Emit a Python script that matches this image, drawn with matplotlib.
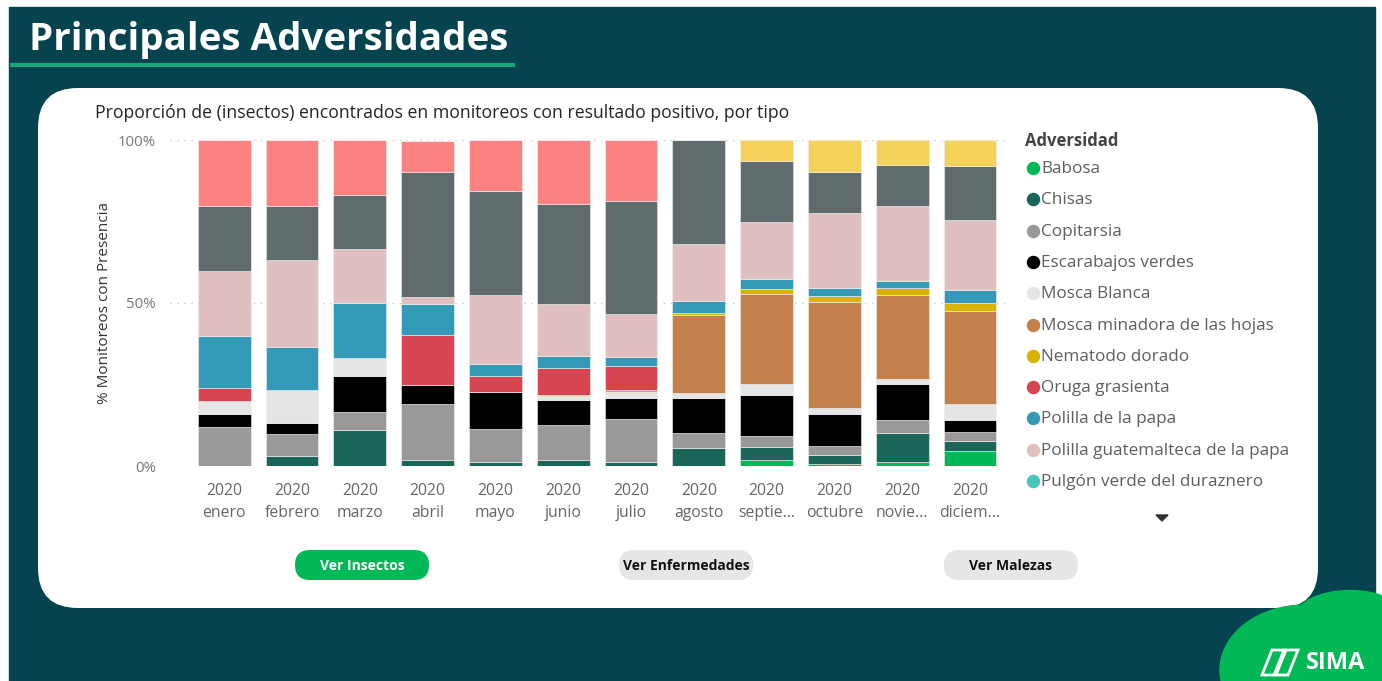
import matplotlib.pyplot as plt
from matplotlib.patches import FancyBboxPatch, Ellipse, Polygon, Rectangle
import numpy as np

plt.rcParams['font.family'] = ['Open Sans', 'DejaVu Sans']

# --- datos (porcentaje de monitoreos por adversidad, 2020) ---
meses = ['enero', 'febrero', 'marzo', 'abril', 'mayo', 'junio', 'julio',
         'agosto', 'septie...', 'octubre', 'novie...', 'diciem...']

babosa       = [0, 0, 0, 0, 0, 0, 0, 0, 1.7, 0.5, 1.3, 4.7]
chisas       = [0, 3.2, 10.9, 1.8, 1.3, 1.7, 1.3, 5.4, 4.1, 2.9, 8.7, 3.1]
copitarsia   = [11.9, 6.7, 5.6, 17.2, 9.9, 10.9, 13.2, 4.7, 3.5, 2.7, 4.2, 2.5]
escarabajos  = [4.0, 3.4, 11.2, 5.8, 11.6, 7.6, 6.5, 10.8, 12.5, 9.9, 11.1, 3.9]
mosca_blanca = [4.0, 10.0, 5.4, 0, 0, 1.2, 1.6, 1.5, 3.4, 1.7, 1.3, 4.8]
minadora     = [0, 0, 0, 0, 0, 0, 0, 23.8, 27.6, 32.7, 26.0, 28.6]
nematodo     = [0, 0, 0, 0, 0, 0.5, 0.7, 0.8, 1.6, 1.8, 1.9, 2.4]
oruga        = [4.0, 0, 0, 15.4, 4.8, 8.2, 7.5, 0, 0, 0, 0, 0]
polilla      = [16.0, 13.2, 16.8, 9.6, 3.6, 3.7, 2.6, 3.7, 2.9, 2.4, 2.2, 4.0]
guatemalteca = [20.0, 26.7, 16.7, 1.9, 21.3, 16.0, 13.3, 17.3, 17.4, 23.1, 23.0, 21.5]
pulgon       = [0, 0, 0, 0, 0, 0, 0, 0, 0, 0, 0, 0]
# series que quedan fuera de la parte visible de la leyenda
pulguilla    = [20.0, 16.6, 16.6, 38.4, 31.9, 30.5, 34.7, 32.0, 18.8, 12.4, 12.6, 16.6]
trips        = [20.0, 20.2, 16.8, 9.7, 15.6, 19.7, 18.5, 0, 0, 0, 0, 0]
tizon        = [0, 0, 0, 0, 0, 0, 0, 0, 6.6, 9.9, 7.7, 8.0]

nombres = ['Babosa', 'Chisas', 'Copitarsia', 'Escarabajos verdes', 'Mosca Blanca',
           'Mosca minadora de las hojas', 'Nematodo dorado', 'Oruga grasienta',
           'Polilla de la papa', 'Polilla guatemalteca de la papa',
           'Pulgón verde del duraznero', 'Pulguilla', 'Trips', 'Tizón']
series = [babosa, chisas, copitarsia, escarabajos, mosca_blanca, minadora, nematodo,
          oruga, polilla, guatemalteca, pulgon, pulguilla, trips, tizon]
colores = ['#00B856', '#1A665A', '#999999', '#000000', '#E5E5E5', '#C3804D', '#D9B300',
           '#D64550', '#3599B8', '#DFBFBF', '#4AC5BB', '#5F6B6D', '#FB8281', '#F4D25A']
n_leyenda = 11

botones = ['Ver Insectos', 'Ver Enfermedades', 'Ver Malezas']

W, H = 1382, 681
fig = plt.figure(figsize=(W / 100, H / 100), dpi=100)
fig.patch.set_facecolor('white')

# fondo en coordenadas de pixel
bg = fig.add_axes([0, 0, 1, 1])
bg.set_xlim(0, W)
bg.set_ylim(H, 0)
bg.axis('off')

bg.add_patch(Rectangle((9, 7), 1366, 680, color='#05434F', zorder=0))
bg.text(29, 40, 'Principales Adversidades', color='white', fontsize=27.7,
        fontweight='bold', va='center', ha='left')
bg.plot([10, 515], [65, 65], color='#1BA57A', lw=3, solid_capstyle='butt')

bg.add_patch(FancyBboxPatch((38, 88), 1280, 520,
                            boxstyle='round,pad=0,rounding_size=40',
                            fc='white', ec='none', zorder=1))

# logo SIMA
bg.add_patch(Ellipse((1305, 670), 170, 130, color='#00B856', zorder=1))
bg.add_patch(Ellipse((1350, 618), 110, 55, color='#00B856', zorder=1))
for dx in (0, 14):
    bg.add_patch(Polygon([[1262 + dx, 675], [1272 + dx, 650], [1284 + dx, 650], [1274 + dx, 675]],
                         closed=True, fill=False, ec='white', lw=2, zorder=2))
bg.text(1306, 663, 'SIMA', color='white', fontsize=17, fontweight='bold',
        va='center', ha='left', zorder=3)

bg.text(95, 113, 'Proporción de (insectos) encontrados en monitoreos con resultado positivo, por tipo',
        color='#252423', fontsize=12.7, va='center', ha='left', zorder=2)

# botones
for (cx, txt), fc, tc in zip(zip([362, 686, 1011], botones),
                             ['#00B856', '#E6E6E6', '#E6E6E6'],
                             ['white', '#111111', '#111111']):
    bg.add_patch(FancyBboxPatch((cx - 67, 550), 134, 30,
                                boxstyle='round,pad=0,rounding_size=15',
                                fc=fc, ec='none', zorder=2))
    bg.text(cx, 566, txt, color=tc, fontsize=10, fontweight='bold',
            ha='center', va='center', zorder=3)

# leyenda
bg.text(1025, 141, 'Adversidad', color='#444444', fontsize=12, fontweight='bold',
        va='center', ha='left', zorder=2)
for i in range(n_leyenda):
    y = 169 + i * 31.3
    bg.scatter(1033, y - 1, s=75, color=colores[i], zorder=3)
    bg.text(1041, y, nombres[i], color='#605E5C', fontsize=12.3,
            va='center', ha='left', zorder=3)
bg.add_patch(Polygon([[1156, 515], [1168, 515], [1162, 521]], closed=True,
                     color='#333333', zorder=3))

# grafico de barras apiladas
ax = fig.add_axes([170 / W, 1 - 466 / H, 840 / W, 326 / H])
ax.set_zorder(2)
ax.patch.set_alpha(0)
x = np.arange(len(meses))
base = np.zeros(len(meses))
for vals, col in zip(series, colores):
    vals = np.array(vals)
    ax.bar(x, vals, 0.78, bottom=base, color=col, edgecolor='#F2F2F2',
           linewidth=0.4, zorder=3)
    base += vals

ax.set_xlim(-0.8, 11.59)
ax.set_ylim(0, 100)
for s in ax.spines.values():
    s.set_visible(False)
for yv in (0, 50, 100):
    ax.axhline(yv, color='#C8C8C8', lw=1, ls=(0, (1, 4)), zorder=1)
ax.set_yticks([0, 50, 100])
ax.set_yticklabels(['0%', '50%', '100%'])
ax.tick_params(axis='y', length=0, pad=10, labelcolor='#777777', labelsize=10.8)
ax.set_xticks(x)
ax.set_xticklabels(['2020\n' + m for m in meses], linespacing=1.55)
ax.tick_params(axis='x', length=0, pad=12, labelcolor='#666666', labelsize=11.3)
ax.set_ylabel('% Monitoreos con Presencia', color='#333333', fontsize=11, labelpad=4)

fig.savefig('out.png', dpi=100)
